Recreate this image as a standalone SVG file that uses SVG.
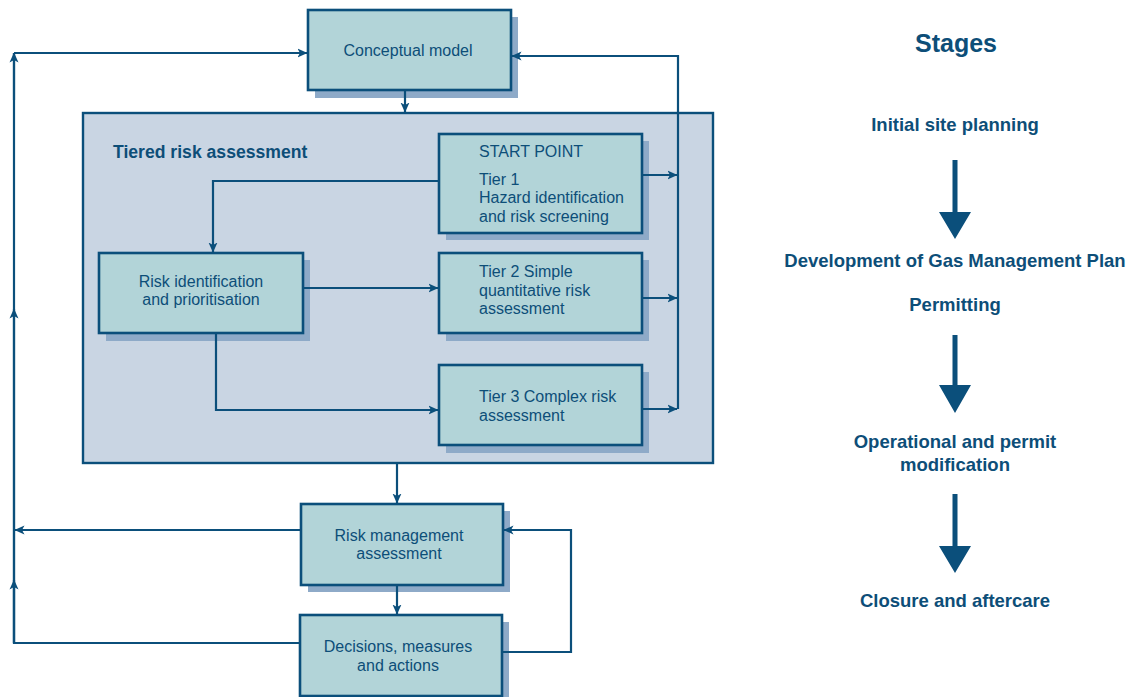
<svg xmlns="http://www.w3.org/2000/svg" width="1132" height="697" viewBox="0 0 1132 697">
  <defs>
    <marker id="arr" viewBox="0 0 10 10" refX="9.5" refY="5" markerWidth="10" markerHeight="10" markerUnits="userSpaceOnUse" orient="auto">
      <path d="M0,0.5 L10,5 L0,9.5 L2.5,5 Z" fill="#0b4f7b"/>
    </marker>
    <style>
      .box { fill: #b2d4d8; stroke: #0b4f7b; stroke-width: 2.6; }
      .shadow { fill: #8eaac8; }
      .frame { fill: #c9d5e3; stroke: #0b4f7b; stroke-width: 2.4; }
      .line { fill: none; stroke: #0b4f7b; stroke-width: 2.2; }
      .arrow { fill: none; stroke: #0b4f7b; stroke-width: 2.2; marker-end: url(#arr); }
      text { font-family: "Liberation Sans", Arial, sans-serif; fill: #0d4e78; }
      .lbl { font-size: 16px; }
      .mid { text-anchor: middle; }
      .stage { font-size: 18.5px; font-weight: bold; text-anchor: middle; }
      .big { fill: #0b4f7b; }
    </style>
  </defs>

  <!-- outer frame for the tiered assessment -->
  <g id="tiered-frame">
    <rect class="frame" x="83" y="113" width="630" height="350"/>
    <text x="113" y="158" font-size="17.6" font-weight="bold">Tiered risk assessment</text>
  </g>

  <g id="conceptual-model">
    <rect class="shadow" x="315" y="17" width="203" height="81"/>
    <rect class="box" x="308" y="10" width="203" height="80"/>
    <text class="lbl mid" x="408" y="56">Conceptual model</text>
  </g>

  <g id="tier1">
    <rect class="shadow" x="446" y="141" width="203" height="99"/>
    <rect class="box" x="439" y="134" width="203" height="99"/>
    <text class="lbl" x="479" y="157">START POINT</text>
    <text class="lbl" x="479" y="185">Tier 1</text>
    <text class="lbl" x="479" y="203">Hazard identification</text>
    <text class="lbl" x="479" y="222">and risk screening</text>
  </g>

  <g id="risk-identification">
    <rect class="shadow" x="106" y="260" width="204" height="81"/>
    <rect class="box" x="99" y="253" width="204" height="80"/>
    <text class="lbl mid" x="201" y="287">Risk identification</text>
    <text class="lbl mid" x="201" y="305">and prioritisation</text>
  </g>

  <g id="tier2">
    <rect class="shadow" x="446" y="260" width="203" height="81"/>
    <rect class="box" x="439" y="253" width="203" height="80"/>
    <text class="lbl" x="479" y="277">Tier 2 Simple</text>
    <text class="lbl" x="479" y="296">quantitative risk</text>
    <text class="lbl" x="479" y="314">assessment</text>
  </g>

  <g id="tier3">
    <rect class="shadow" x="446" y="372" width="203" height="81"/>
    <rect class="box" x="439" y="365" width="203" height="80"/>
    <text class="lbl" x="479" y="402">Tier 3 Complex risk</text>
    <text class="lbl" x="479" y="421">assessment</text>
  </g>

  <g id="risk-management">
    <rect class="shadow" x="308" y="511" width="202" height="81"/>
    <rect class="box" x="301" y="504" width="202" height="81"/>
    <text class="lbl mid" x="399" y="541">Risk management</text>
    <text class="lbl mid" x="399" y="559">assessment</text>
  </g>

  <g id="decisions">
    <rect class="shadow" x="307" y="622" width="202" height="81"/>
    <rect class="box" x="300" y="615" width="202" height="81"/>
    <text class="lbl mid" x="398" y="652">Decisions, measures</text>
    <text class="lbl mid" x="398" y="671">and actions</text>
  </g>

  <g id="connectors">
    <!-- main flow -->
    <path class="arrow" d="M405,90 V112"/>
    <path class="arrow" d="M439,181 H213 V252"/>
    <path class="arrow" d="M303,288 H438"/>
    <path class="arrow" d="M216,333 V410 H438"/>
    <path class="arrow" d="M397,463 V503"/>
    <path class="arrow" d="M397,585 V614"/>
    <!-- tier outputs back to the conceptual model -->
    <path class="arrow" d="M642,175 H677"/>
    <path class="arrow" d="M642,298 H677"/>
    <path class="arrow" d="M642,409 H677"/>
    <path class="arrow" d="M678,409 V56 H512"/>
    <!-- decisions loop back to risk management -->
    <path class="arrow" d="M502,652 H571 V530 H504"/>
    <!-- outer feedback loop on the left -->
    <path class="arrow" d="M301,530 H15"/>
    <path class="line" d="M300,643 H14 V53"/>
    <path class="arrow" d="M14,53 H307"/>
    <path class="arrow" d="M14,643 V309"/>
    <path class="arrow" d="M14,643 V580"/>
    <path class="arrow" d="M14,100 V53"/>
  </g>

  <!-- stage sequence -->
  <g id="stages">
    <text x="956" y="52" font-size="25" font-weight="bold" text-anchor="middle">Stages</text>
    <text class="stage" x="955" y="131">Initial site planning</text>
    <text class="stage" x="955" y="267">Development of Gas Management Plan</text>
    <text class="stage" x="955" y="311">Permitting</text>
    <text class="stage" x="955" y="448">Operational and permit</text>
    <text class="stage" x="955" y="471">modification</text>
    <text class="stage" x="955" y="607">Closure and aftercare</text>
  </g>

  <g id="stage-arrows" class="big">
    <path d="M952.5,160 H957.5 V212 H971 L955,239 L939,212 H952.5 Z"/>
    <path d="M952.5,335 H957.5 V385 H971 L955,413 L939,385 H952.5 Z"/>
    <path d="M952.5,494 H957.5 V546 H971 L955,573 L939,546 H952.5 Z"/>
  </g>
</svg>
